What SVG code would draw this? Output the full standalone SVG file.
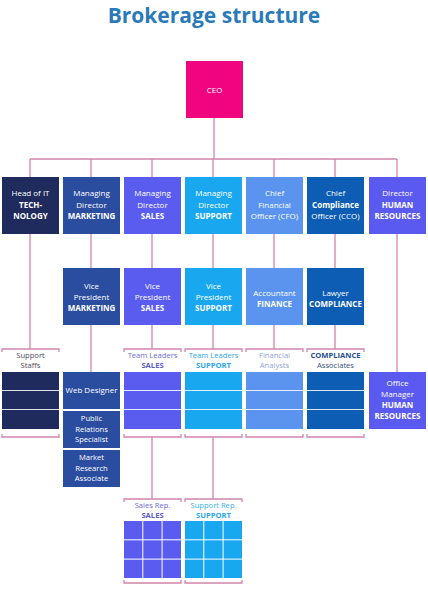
<svg xmlns="http://www.w3.org/2000/svg" width="428" height="600" viewBox="0 0 428 600">
<style>
.t{font-family:"Open Sans","Liberation Sans",sans-serif;font-size:8px;fill:#fff;text-anchor:middle}
.s{font-size:7.6px}
.b{font-weight:bold}
.lb{font-family:"Open Sans","Liberation Sans",sans-serif;font-size:7.6px;text-anchor:middle}
.ln{fill:none;stroke:#d185ad;stroke-width:1.3}
.c1{fill:#1f2b5c}.c2{fill:#2b4d9f}.c3{fill:#5a5cf0}.c4{fill:#19a8ef}.c5{fill:#5b94ee}.c6{fill:#0c5db3}.c7{fill:#5a5af0}
.sep{fill:#ffffff;opacity:0.85}
</style>
<rect width="428" height="600" fill="#ffffff"/>
<text x="214" y="23" font-family="Open Sans, Liberation Sans, sans-serif" font-size="21" font-weight="bold" fill="#2a7ab9" text-anchor="middle">Brokerage structure</text>

<g id="connectors" class="ln">
<path d="M214 118V159M30 159H397M30 159V177M91 159V177M152 159V177M213 159V177M274 159V177M335 159V177M397 159V177"/>
<path d="M91 234V268M152 234V268M213 234V268M274 234V268M335 234V268"/>
<path d="M30 234V349M397 234V372M91 325V372M152 325V349M213 325V349M274 325V349M335 325V349"/>
<path d="M152 437V499M213 437V499"/>
<path d="M2 352V349H59V352M2 434V437H59V434"/>
<path d="M124 352V349H181V352M124 434V437H181V434"/>
<path d="M185 352V349H242V352M185 434V437H242V434"/>
<path d="M246 352V349H303V352M246 434V437H303V434"/>
<path d="M307 352V349H364V352M307 434V437H364V434"/>
<path d="M124 502V499H181V502M124 580V583H181V580"/>
<path d="M185 502V499H242V502M185 580V583H242V580"/>
</g>

<g id="ceo"><rect x="186" y="61" width="57" height="57" fill="#f0047f"/><text class="t" x="214.5" y="93">CEO</text></g>

<g id="head-it"><rect class="c1" x="2" y="177" width="57" height="57"/>
<text class="t" x="30.5" y="196">Head of IT</text><text class="t b" x="30.5" y="207.5">TECH-</text><text class="t b" x="30.5" y="219">NOLOGY</text></g>
<g id="md-marketing"><rect class="c2" x="63" y="177" width="57" height="57"/>
<text class="t" x="91.5" y="196">Managing</text><text class="t" x="91.5" y="207.5">Director</text><text class="t b" x="91.5" y="219">MARKETING</text></g>
<g id="md-sales"><rect class="c3" x="124" y="177" width="57" height="57"/>
<text class="t" x="152.5" y="196">Managing</text><text class="t" x="152.5" y="207.5">Director</text><text class="t b" x="152.5" y="219">SALES</text></g>
<g id="md-support"><rect class="c4" x="185" y="177" width="57" height="57"/>
<text class="t" x="213.5" y="196">Managing</text><text class="t" x="213.5" y="207.5">Director</text><text class="t b" x="213.5" y="219">SUPPORT</text></g>
<g id="cfo"><rect class="c5" x="246" y="177" width="57" height="57"/>
<text class="t" x="274.5" y="196">Chief</text><text class="t" x="274.5" y="207.5">Financial</text><text class="t" x="274.5" y="219">Officer (CFO)</text></g>
<g id="cco"><rect class="c6" x="307" y="177" width="57" height="57"/>
<text class="t" x="335.5" y="196">Chief</text><text class="t b" x="335.5" y="207.5">Compliance</text><text class="t" x="335.5" y="219">Officer (CCO)</text></g>
<g id="director-hr"><rect class="c7" x="369" y="177" width="57" height="57"/>
<text class="t" x="397.5" y="196">Director</text><text class="t b" x="397.5" y="207.5">HUMAN</text><text class="t b" x="397.5" y="219">RESOURCES</text></g>

<g id="vp-marketing"><rect class="c2" x="63" y="268" width="57" height="57"/>
<text class="t" x="91.5" y="288.5">Vice</text><text class="t" x="91.5" y="299.5">President</text><text class="t b" x="91.5" y="310.5">MARKETING</text></g>
<g id="vp-sales"><rect class="c3" x="124" y="268" width="57" height="57"/>
<text class="t" x="152.5" y="288.5">Vice</text><text class="t" x="152.5" y="299.5">President</text><text class="t b" x="152.5" y="310.5">SALES</text></g>
<g id="vp-support"><rect class="c4" x="185" y="268" width="57" height="57"/>
<text class="t" x="213.5" y="288.5">Vice</text><text class="t" x="213.5" y="299.5">President</text><text class="t b" x="213.5" y="310.5">SUPPORT</text></g>
<g id="accountant"><rect class="c5" x="246" y="268" width="57" height="57"/>
<text class="t" x="274.5" y="295.5">Accountant</text><text class="t b" x="274.5" y="306.5">FINANCE</text></g>
<g id="lawyer"><rect class="c6" x="307" y="268" width="57" height="57"/>
<text class="t" x="335.5" y="295.5">Lawyer</text><text class="t b" x="335.5" y="306.5">COMPLIANCE</text></g>

<g id="support-staffs">
<text class="lb" x="30.5" y="357.8" fill="#4a4a5a">Support</text><text class="lb" x="30.5" y="368.3" fill="#4a4a5a">Staffs</text>
<rect class="c1" x="2" y="372" width="57" height="57"/>
<rect class="sep" x="2" y="390" width="57" height="1"/><rect class="sep" x="2" y="409" width="57" height="1"/></g>
<g id="web-designer"><rect class="c2" x="63" y="372" width="57" height="37"/><text class="t" x="91.5" y="393">Web Designer</text></g>
<g id="pr-specialist"><rect class="c2" x="63" y="411" width="57" height="37"/>
<text class="t s" x="91.5" y="421.3">Public</text><text class="t s" x="91.5" y="431.8">Relations</text><text class="t s" x="91.5" y="442.3">Specialist</text></g>
<g id="market-research"><rect class="c2" x="63" y="450" width="57" height="37"/>
<text class="t s" x="91.5" y="460.3">Market</text><text class="t s" x="91.5" y="470.8">Research</text><text class="t s" x="91.5" y="481.3">Associate</text></g>
<g id="team-leaders-sales">
<text class="lb" x="152.5" y="357.8" fill="#6b6bd6">Team Leaders</text><text class="lb b" x="152.5" y="368.3" fill="#5b5bc8">SALES</text>
<rect class="c3" x="124" y="372" width="57" height="57"/>
<rect class="sep" x="124" y="390" width="57" height="1"/><rect class="sep" x="124" y="409" width="57" height="1"/></g>
<g id="team-leaders-support">
<text class="lb" x="213.5" y="357.8" fill="#2aa6e6">Team Leaders</text><text class="lb b" x="213.5" y="368.3" fill="#2aa6e6">SUPPORT</text>
<rect class="c4" x="185" y="372" width="57" height="57"/>
<rect class="sep" x="185" y="390" width="57" height="1"/><rect class="sep" x="185" y="409" width="57" height="1"/></g>
<g id="financial-analysts">
<text class="lb" x="274.5" y="357.8" fill="#8ea6d6">Financial</text><text class="lb" x="274.5" y="368.3" fill="#8ea6d6">Analysts</text>
<rect class="c5" x="246" y="372" width="57" height="57"/>
<rect class="sep" x="246" y="390" width="57" height="1"/><rect class="sep" x="246" y="409" width="57" height="1"/></g>
<g id="compliance-associates">
<text class="lb b" x="335.5" y="357.8" fill="#1f4f8f">COMPLIANCE</text><text class="lb" x="335.5" y="368.3" fill="#34507e">Associates</text>
<rect class="c6" x="307" y="372" width="57" height="57"/>
<rect class="sep" x="307" y="390" width="57" height="1"/><rect class="sep" x="307" y="409" width="57" height="1"/></g>
<g id="office-manager"><rect class="c7" x="369" y="372" width="57" height="57"/>
<text class="t" x="397.5" y="386">Office</text><text class="t" x="397.5" y="397">Manager</text><text class="t b" x="397.5" y="408">HUMAN</text><text class="t b" x="397.5" y="419">RESOURCES</text></g>

<g id="sales-rep">
<text class="lb" x="152.5" y="507.8" fill="#6b6bd6">Sales Rep.</text><text class="lb b" x="152.5" y="518.3" fill="#5b5bc8">SALES</text>
<g class="c3">
<rect x="124" y="521" width="18.3" height="18.3"/><rect x="143.3" y="521" width="18.3" height="18.3"/><rect x="162.6" y="521" width="18.4" height="18.3"/>
<rect x="124" y="540.3" width="18.3" height="18.3"/><rect x="143.3" y="540.3" width="18.3" height="18.3"/><rect x="162.6" y="540.3" width="18.4" height="18.3"/>
<rect x="124" y="559.6" width="18.3" height="18.4"/><rect x="143.3" y="559.6" width="18.3" height="18.4"/><rect x="162.6" y="559.6" width="18.4" height="18.4"/>
</g></g>
<g id="support-rep">
<text class="lb" x="213.5" y="507.8" fill="#3ab0e8">Support Rep.</text><text class="lb b" x="213.5" y="518.3" fill="#2aa6e6">SUPPORT</text>
<g class="c4">
<rect x="185" y="521" width="18.3" height="18.3"/><rect x="204.3" y="521" width="18.3" height="18.3"/><rect x="223.6" y="521" width="18.4" height="18.3"/>
<rect x="185" y="540.3" width="18.3" height="18.3"/><rect x="204.3" y="540.3" width="18.3" height="18.3"/><rect x="223.6" y="540.3" width="18.4" height="18.3"/>
<rect x="185" y="559.6" width="18.3" height="18.4"/><rect x="204.3" y="559.6" width="18.3" height="18.4"/><rect x="223.6" y="559.6" width="18.4" height="18.4"/>
</g></g>
</svg>
